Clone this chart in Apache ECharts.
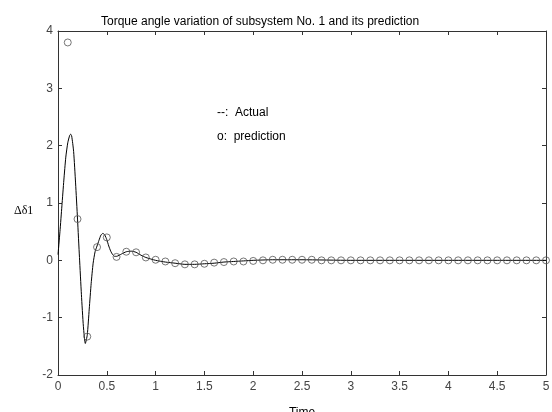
<!DOCTYPE html>
<html lang="en">
<head>
    <meta charset="UTF-8">
    <title>Torque angle variation</title>
    <script src="https://cdn.jsdelivr.net/npm/echarts@6/dist/echarts.min.js"></script>
    <style>
        html,body{margin:0;padding:0;background:#fff;}
        #chart{width:552px;height:412px;}
    </style>
</head>
<body>
<div id="chart"></div>
<script>
    'use strict';
    // actual curve (time, value)
    const actualT=[0,0.02,0.04,0.06,0.08,0.10,0.12,0.13,0.14,0.16,0.18,0.20,0.22,0.24,0.26,0.28,0.30,0.32,0.34,0.36,0.38,0.40,0.42,0.44,0.46,0.48,0.50,0.52,0.54,0.56,0.58,0.60,0.65,0.70,0.75,0.80,0.85,0.90,1.0,1.1,1.2,1.3,1.4,1.5,1.6,1.7,1.8,1.9,2.0,2.2,2.5,3.0,3.5,4.0,4.5,5.0];
    const actualV=[0.1,0.5,0.95,1.4,1.8,2.05,2.18,2.2,2.17,1.9,1.35,0.72,0.05,-0.6,-1.15,-1.45,-1.3,-0.85,-0.4,-0.05,0.15,0.25,0.35,0.44,0.47,0.44,0.36,0.25,0.16,0.1,0.07,0.07,0.11,0.15,0.16,0.14,0.09,0.05,0.0,-0.03,-0.05,-0.07,-0.07,-0.06,-0.05,-0.03,-0.02,-0.01,0,0.01,0.01,0,0,0,0,0];
    // prediction, one circle every 0.1 s
    const predT=[0.1,0.2,0.3,0.4,0.5,0.6,0.7,0.8,0.9,1.0,1.1,1.2,1.3,1.4,1.5,1.6,1.7,1.8,1.9,2.0,2.1,2.2,2.3,2.4,2.5,2.6,2.7,2.8,2.9,3.0,3.1,3.2,3.3,3.4,3.5,3.6,3.7,3.8,3.9,4.0,4.1,4.2,4.3,4.4,4.5,4.6,4.7,4.8,4.9,5.0];
    const predV=[3.8,0.72,-1.33,0.23,0.4,0.06,0.15,0.14,0.05,0.01,-0.02,-0.05,-0.07,-0.07,-0.06,-0.04,-0.03,-0.02,-0.02,-0.01,0,0.01,0.01,0.01,0.01,0.01,0,0,0,0,0,0,0,0,0,0,0,0,0,0,0,0,0,0,0,0,0,0,0,0];

    const chart=echarts.init(document.getElementById('chart'));
    const axisLine={show:true,onZero:false,lineStyle:{color:'#333',width:1}};
    const tick={show:true,inside:true,length:4,lineStyle:{color:'#333'}};
    const label={color:'#444',fontFamily:'Arial',fontSize:12};

    chart.setOption({
        animation:false,
        backgroundColor:'#fff',
        title:{
            text:'Torque angle variation of subsystem No. 1 and its prediction',
            left:96,top:11,
            textStyle:{fontFamily:'Arial',fontSize:12,fontWeight:'normal',color:'#000'}
        },
        grid:{left:58,right:6,top:31,bottom:37,outerBoundsMode:'none',containLabel:false},
        xAxis:[{
            type:'value',min:0,max:5,interval:0.5,
            axisLine:axisLine,axisTick:tick,splitLine:{show:false},
            axisLabel:Object.assign({margin:6},label),
            name:'Time',nameLocation:'middle',nameGap:32,
            nameTextStyle:{fontFamily:'Arial',fontSize:12,color:'#000'}
        },{
            type:'value',min:0,max:5,interval:0.5,position:'top',
            axisLine:axisLine,axisTick:tick,axisLabel:{show:false},splitLine:{show:false}
        }],
        yAxis:[{
            type:'value',min:-2,max:4,interval:1,
            axisLine:axisLine,axisTick:tick,splitLine:{show:false},
            axisLabel:Object.assign({margin:5},label)
        },{
            type:'value',min:-2,max:4,interval:1,position:'right',
            axisLine:axisLine,axisTick:tick,axisLabel:{show:false},splitLine:{show:false}
        }],
        graphic:[
            {type:'text',left:14,top:205,style:{text:'Δδ1',font:'12px "Times New Roman", "Liberation Serif", serif',fill:'#000'}},
            {type:'text',left:217,top:107,style:{text:'--:  Actual',font:'12px Arial',fill:'#000'}},
            {type:'text',left:217,top:131,style:{text:'o:  prediction',font:'12px Arial',fill:'#000'}}
        ],
        series:[{
            type:'line',
            data:actualT.map(function(t,i){return [t,actualV[i]];}),
            showSymbol:false,smooth:0.2,
            lineStyle:{color:'#000',width:1},
            z:2
        },{
            type:'scatter',
            data:predT.map(function(t,i){return [t,predV[i]];}),
            symbol:'circle',symbolSize:7,
            itemStyle:{color:'rgba(0,0,0,0)',borderColor:'#555',borderWidth:1},
            z:3
        }]
    });
</script>
</body>
</html>
